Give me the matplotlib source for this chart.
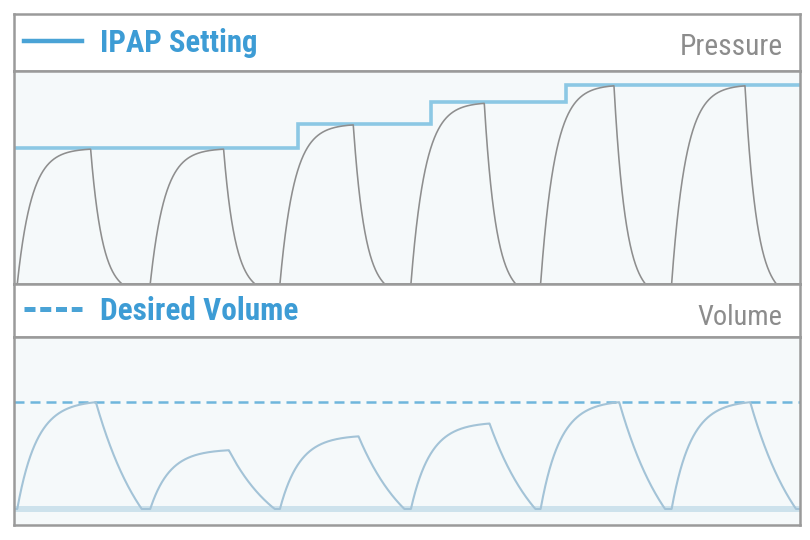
import numpy as np
import matplotlib.pyplot as plt
from matplotlib import font_manager
from matplotlib.lines import Line2D

# data (one breath = 1 time unit)
breath_start = [0.025, 1.04, 2.03, 3.03, 4.02, 5.02]
ipap_level = [10, 10, 11.8, 13.4, 14.7, 14.7]       # pressure reached by each breath
ipap_change_t = [0, 2.17, 3.18, 4.21, 6]
ipap_setting = [10, 11.8, 13.4, 14.7, 14.7]
tidal_volume = [500, 275, 340, 400, 500, 500]
desired_volume = 500
t_insp = 0.56

W, H = 810, 540
BLUE = '#3d9cd5'
GRAY_TXT = '#8c8c8c'
EDGE = '#9a9a9a'

# condensed font if there is one
names = {f.name for f in font_manager.fontManager.ttflist}
FONT = 'Roboto'
for cand in ['Roboto Condensed', 'Archivo Narrow', 'Liberation Sans Narrow', 'Barlow Semi Condensed']:
    if cand in names:
        FONT = cand
        break


def frac(x0, y0, x1, y1):
    return [x0 / W, 1 - y1 / H, (x1 - x0) / W, (y1 - y0) / H]


# waveforms
t = np.linspace(0, 6, 4000)
pressure = np.zeros_like(t)
volume = np.zeros_like(t)
for s, lev, vt in zip(breath_start, ipap_level, tidal_volume):
    tau = t - s
    rise = (tau >= 0) & (tau < t_insp)
    pressure[rise] = lev * (1 - np.exp(-tau[rise] / 0.11))
    d = tau - t_insp
    Dp, tf = 0.24, 0.09
    fall = (d >= 0) & (d < Dp)
    e0 = np.exp(-Dp / tf)
    pressure[fall] = lev * (1 - np.exp(-t_insp / 0.11)) * (np.exp(-d[fall] / tf) - e0) / (1 - e0)

    Ti = 0.6
    rise = (tau >= 0) & (tau < Ti)
    volume[rise] = vt * (1 - np.exp(-tau[rise] / 0.15)) / (1 - np.exp(-Ti / 0.15))
    d = tau - Ti
    Dv, tv = 0.35, 0.4
    fall = (d >= 0) & (d < Dv)
    e0 = np.exp(-Dv / tv)
    volume[fall] = vt * (np.exp(-d[fall] / tv) - e0) / (1 - e0)

fig = plt.figure(figsize=(8.1, 5.4), dpi=100)
fig.patch.set_facecolor('white')


def fit_size(s, weight, width_px):
    # font size that makes the text span width_px
    tx = fig.text(0, 0, s, family=FONT, weight=weight, size=20)
    fig.canvas.draw()
    w = tx.get_window_extent().width
    tx.remove()
    return 20 * width_px / w


ax_h1 = fig.add_axes(frac(14, 14, 800, 71))
ax_p = fig.add_axes(frac(14, 71, 800, 284))
ax_h2 = fig.add_axes(frac(14, 284, 800, 337))
ax_v = fig.add_axes(frac(14, 337, 800, 525))

for ax, bg in [(ax_h1, 'white'), (ax_p, '#f5f9fa'), (ax_h2, 'white'), (ax_v, '#f5f9fa')]:
    ax.set_facecolor(bg)
    ax.set_xticks([])
    ax.set_yticks([])
    for sp in ax.spines.values():
        sp.set_color(EDGE)
        sp.set_linewidth(1.8)

# pressure panel
ax_p.set_xlim(0, 6)
ax_p.set_ylim(0, 15.7)
ax_p.step(ipap_change_t, ipap_setting, where='post', color='#8cc8e4', lw=2.6,
          solid_joinstyle='miter')
ax_p.plot(t, pressure, color='#8e8e8e', lw=1.15)

# volume panel
ax_v.set_xlim(0, 6)
ax_v.set_ylim(-75, 805)
ax_v.axhline(0, color='#cde2ec', lw=4.3)
ax_v.axhline(desired_volume, color='#6fb6dc', lw=1.8, dashes=(4, 2.4))
ax_v.plot(t, volume, color='#a3c3d7', lw=1.5)

# headers
h_ipap = Line2D([], [], color='#4aa3d6', lw=3.2)
h_vol = Line2D([], [], color='#4aa3d6', lw=3.6, dashes=(2.2, 0.95))
for ax, h, lab, wpx in [(ax_h1, h_ipap, 'IPAP Setting', 157), (ax_h2, h_vol, 'Desired Volume', 197)]:
    ax.set_xlim(0, 1)
    ax.set_ylim(0, 1)
    fs = fit_size(lab, 'bold', wpx)
    fpx = fs * 100 / 72
    ax.legend([h], [lab], loc='center left', bbox_to_anchor=(10 / 786, 0.5),
              frameon=False, prop=dict(family=FONT, weight='bold', size=fs),
              handlelength=58 / fpx, handletextpad=18 / fpx,
              borderaxespad=0, borderpad=0, labelcolor=BLUE)

ax_h1.text(0.978, 0.28, 'Pressure', ha='right', va='baseline', color=GRAY_TXT,
           family=FONT, size=fit_size('Pressure', 'normal', 103))
ax_h2.text(0.978, 0.23, 'Volume', ha='right', va='baseline', color=GRAY_TXT,
           family=FONT, size=fit_size('Volume', 'normal', 85))

fig.savefig('out.png', dpi=100)
